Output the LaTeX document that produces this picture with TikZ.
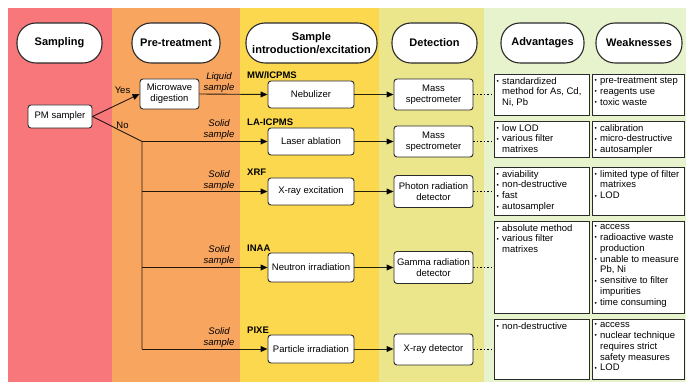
\documentclass[tikz,border=0pt]{standalone}
\usepackage{fontspec}
\setmainfont{Liberation Sans}
\usetikzlibrary{arrows.meta}
\definecolor{bred}{HTML}{F7777A}
\definecolor{borange}{HTML}{F8A560}
\definecolor{byellow}{HTML}{FCD84E}
\definecolor{blyellow}{HTML}{EBE58C}
\definecolor{bgreen}{HTML}{E7F3CC}
\definecolor{edge}{HTML}{2A2A2A}
\newcommand\bul{\makebox[5.5pt][l]{\raisebox{0.6pt}{\fontsize{6.5}{6.5}\selectfont •}}}
\newcommand\ind{\hspace*{5.5pt}}
\begin{document}
\begin{tikzpicture}[x=1pt,y=-1pt,
  hdr/.style={draw=edge, line width=1.1pt, fill=white, rounded corners=19pt,
    font=\fontsize{11}{13}\selectfont\bfseries, align=center, inner sep=0pt, minimum height=40},
  stepbox/.style={draw=edge, line width=0.9pt, fill=white, rounded corners=3pt,
    font=\fontsize{9.5}{11}\selectfont, align=center, inner sep=0pt},
  abox/.style={draw=edge, line width=0.9pt, fill=white, inner sep=0pt, anchor=north west},
  atext/.style={font=\fontsize{9.5}{10.9}\selectfont, align=left, inner sep=0pt, anchor=north west},
  meth/.style={font=\fontsize{9.5}{11}\selectfont\bfseries, inner sep=0pt, anchor=west},
  smp/.style={font=\fontsize{9.5}{11}\selectfont\itshape, align=center, inner sep=0pt},
  lab/.style={font=\fontsize{9.5}{11}\selectfont, inner sep=0pt},
  conn/.style={draw=black, draw opacity=0.85, line width=0.9pt},
  arr/.style={conn, -{Triangle[length=7pt,width=6pt]}},
  dots/.style={draw=black, line width=0.9pt, dash pattern=on 1.5pt off 2pt}
]
\useasboundingbox (0,0) rectangle (686,382);
% bands
\fill[bred] (8,8) rectangle (112,382);
\fill[borange] (112,8) rectangle (240,382);
\fill[byellow] (240,8) rectangle (379,382);
\fill[blyellow] (379,8) rectangle (484,382);
\fill[bgreen] (484,8) rectangle (686,382);
% headers
\node[hdr, minimum width=85] (hsamp) at (59.5,43) {Sampling};
\node[hdr, minimum width=88] (hpre) at (176,43) {Pre-treatment};
\node[hdr, minimum width=131] (hintro) at (311.5,43) {Sample\\introduction/excitation};
\node[hdr, minimum width=85] (hdet) at (434.5,43) {Detection};
\node[hdr, minimum width=83] (hadv) at (542.5,43) {Advantages};
\node[hdr, minimum width=86] (hweak) at (639,43) {Weaknesses};
% process boxes
\node[stepbox, minimum width=64, minimum height=23] (pm) at (60,116.5) {PM sampler};
\node[stepbox, minimum width=59, minimum height=30] (mw) at (169.5,94) {Microwave\\digestion};
\node[stepbox, minimum width=86, minimum height=27] (neb) at (311,94.5) {Nebulizer};
\node[stepbox, minimum width=79, minimum height=31] (ms1) at (433.5,94.5) {Mass\\spectrometer};
\node[stepbox, minimum width=86, minimum height=27] (la) at (311,141.5) {Laser ablation};
\node[stepbox, minimum width=79, minimum height=31] (ms2) at (433.5,141.5) {Mass\\spectrometer};
\node[stepbox, minimum width=86, minimum height=27] (xe) at (311,191.5) {X-ray excitation};
\node[stepbox, minimum width=79, minimum height=32] (pd) at (433.5,191.5) {Photon radiation\\detector};
\node[stepbox, minimum width=86, minimum height=29] (ni) at (311,267.5) {Neutron irradiation};
\node[stepbox, minimum width=79, minimum height=32] (gd) at (433.5,267.5) {Gamma radiation\\detector};
\node[stepbox, minimum width=86, minimum height=28] (pi) at (311,349) {Particle irradiation};
\node[stepbox, minimum width=79, minimum height=31] (xd) at (433.5,349.5) {X-ray detector};
% method labels
\node[meth] (m1) at (247,75) {MW/ICPMS};
\node[meth] (m2) at (247,122) {LA-ICPMS};
\node[meth] (m3) at (247,172) {XRF};
\node[meth] (m4) at (247,248) {INAA};
\node[meth] (m5) at (247,330) {PIXE};
% sample labels
\node[smp] (s1) at (219,83) {Liquid\\sample};
\node[smp] (s2) at (219,130) {Solid\\sample};
\node[smp] (s3) at (219,181) {Solid\\sample};
\node[smp] (s4) at (219,256) {Solid\\sample};
\node[smp] (s5) at (219,338) {Solid\\sample};
\node[lab] (yes) at (122.5,90) {Yes};
\node[lab] (no) at (122.5,125) {No};
% connectors
\coordinate (br) at (142,141.5);
\draw[arr] (pm.east) -- (mw.west);
\draw[conn] (pm.east) -- (br) -- (br |- pi.west);
\draw[arr] (mw.east) -- (neb.west);
\draw[arr] (br) -- (la.west);
\draw[arr] (br |- xe.west) -- (xe.west);
\draw[arr] (br |- ni.west) -- (ni.west);
\draw[arr] (br |- pi.west) -- (pi.west);
\draw[arr] (neb.east) -- (ms1.west |- neb.east);
\draw[arr] (la.east) -- (ms2.west |- la.east);
\draw[arr] (xe.east) -- (pd.west |- xe.east);
\draw[arr] (ni.east) -- (gd.west |- ni.east);
\draw[arr] (pi.east) -- (xd.west |- pi.east);
% advantage / weakness boxes
\node[abox, minimum width=95, minimum height=41] (a1) at (494,74) {};
\node[abox, minimum width=92, minimum height=41] (w1) at (592,74) {};
\node[abox, minimum width=95, minimum height=36] (a2) at (494,121) {};
\node[abox, minimum width=92, minimum height=36] (w2) at (592,121) {};
\node[abox, minimum width=95, minimum height=48] (a3) at (494,167) {};
\node[abox, minimum width=92, minimum height=48] (w3) at (592,167) {};
\node[abox, minimum width=95, minimum height=92] (a4) at (494,221) {};
\node[abox, minimum width=92, minimum height=92] (w4) at (592,221) {};
\node[abox, minimum width=95, minimum height=60] (a5) at (494,319) {};
\node[abox, minimum width=92, minimum height=60] (w5) at (592,319) {};
\draw[dots] (ms1.east) -- (a1.west |- ms1.east);
\draw[dots] (ms2.east) -- (a2.west |- ms2.east);
\draw[dots] (pd.east) -- (a3.west |- pd.east);
\draw[dots] (gd.east) -- (a4.west |- gd.east);
\draw[dots] (xd.east) -- (a5.west |- xd.east);
\node[atext] (a1t) at ([shift={(2.5,3)}]a1.north west) {\bul standardized\\\ind method for As, Cd,\\\ind Ni, Pb};
\node[atext] (w1t) at ([shift={(2.5,3)}]w1.north west) {\bul pre-treatment step\\\bul reagents use\\\bul toxic waste};
\node[atext] (a2t) at ([shift={(2.5,3)}]a2.north west) {\bul low LOD\\\bul various filter\\\ind matrixes};
\node[atext] (w2t) at ([shift={(2.5,3)}]w2.north west) {\bul calibration\\\bul micro-destructive\\\bul autosampler};
\node[atext] (a3t) at ([shift={(2.5,3)}]a3.north west) {\bul aviability\\\bul non-destructive\\\bul fast\\\bul autosampler};
\node[atext] (w3t) at ([shift={(2.5,3)}]w3.north west) {\bul limited type of filter\\\ind matrixes\\\bul LOD};
\node[atext] (a4t) at ([shift={(2.5,3)}]a4.north west) {\bul absolute method\\\bul various filter\\\ind matrixes};
\node[atext] (w4t) at ([shift={(2.5,3)}]w4.north west) {\bul access\\\bul radioactive waste\\\ind production\\\bul unable to measure\\\ind Pb, Ni\\\bul sensitive to filter\\\ind impurities\\\bul time consuming};
\node[atext] (a5t) at ([shift={(2.5,3)}]a5.north west) {\bul non-destructive};
\node[atext] (w5t) at ([shift={(2.5,3)}]w5.north west) {\bul access\\\bul nuclear technique\\\ind requires strict\\\ind safety measures\\\bul LOD};
\end{tikzpicture}
\end{document}
